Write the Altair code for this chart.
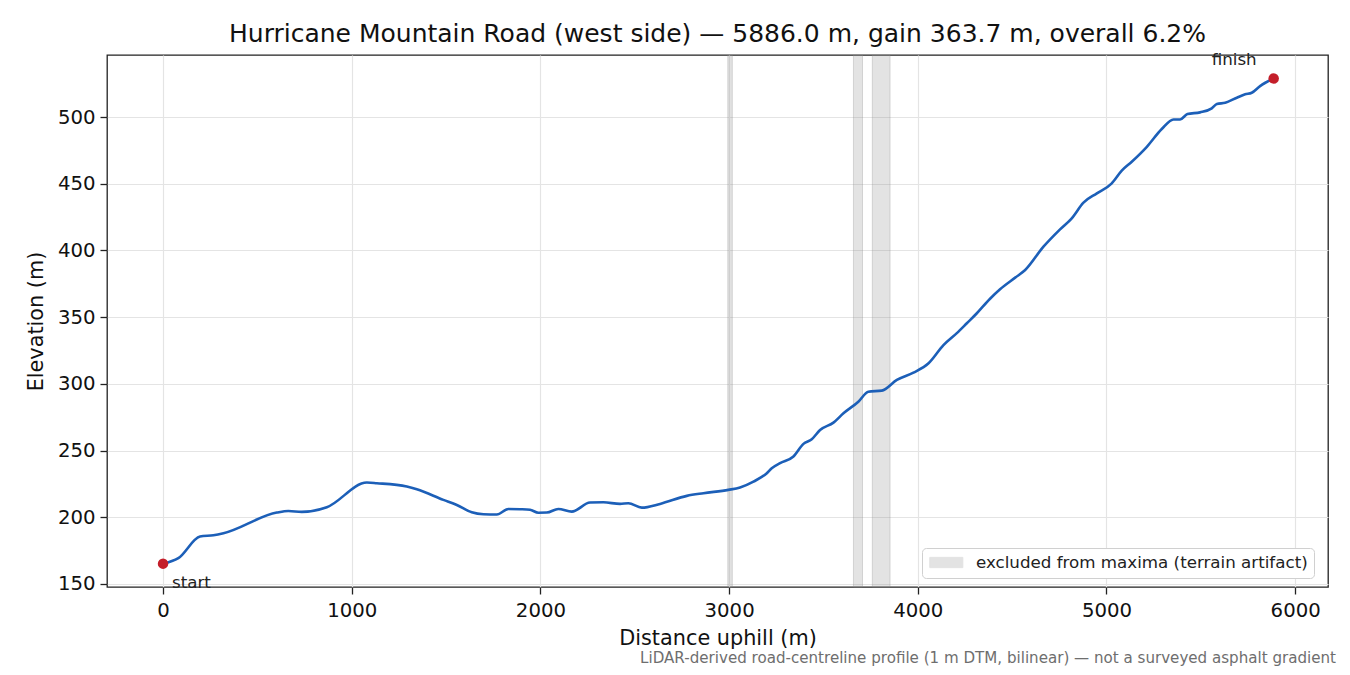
"""Elevation profile of Hurricane Mountain Road (west side)."""

import altair as alt
import pandas as pd

# Profile: distance uphill (m) and elevation (m)
distance_m = [
    0, 81, 196, 267, 320, 603, 664, 735, 868, 1080, 1133, 1292, 1345, 1486,
    1557, 1636, 1698, 1769, 1830, 1892, 1945, 1989, 2034, 2095, 2166, 2263,
    2334, 2422, 2466, 2537, 2634, 2776, 2864, 2996, 3058, 3129, 3200, 3226,
    3270, 3341, 3394, 3438, 3482, 3553, 3606, 3685, 3738, 3809, 3889, 3977,
    4057, 4136, 4207, 4260, 4313, 4383, 4436, 4516, 4569, 4666, 4754, 4816,
    4878, 4949, 5028, 5081, 5134, 5214, 5293, 5355, 5390, 5429, 5496, 5558,
    5585, 5629, 5691, 5735, 5770, 5814, 5886,
]
elevation_m = [
    165.2, 169.3, 185.5, 186.5, 188.0, 203.5, 204.7, 204.0, 207.5, 226.0,
    225.5, 223.0, 221.0, 213.0, 209.2, 203.7, 202.2, 202.0, 206.2, 206.0,
    205.6, 203.4, 203.5, 206.2, 204.2, 211.0, 211.2, 210.0, 210.5, 207.2,
    210.0, 216.0, 218.0, 220.5, 222.3, 226.7, 233.0, 236.7, 240.5, 245.5,
    255.0, 258.5, 265.4, 270.9, 277.9, 286.6, 294.1, 294.9, 302.9, 308.4,
    315.4, 329.0, 338.0, 345.4, 352.9, 363.8, 370.9, 379.6, 385.3, 402.8,
    415.8, 424.1, 435.8, 442.8, 450.3, 459.8, 466.5, 477.7, 491.0, 498.2,
    498.2, 502.2, 503.5, 506.5, 509.7, 510.7, 514.5, 517.0, 518.2, 523.2,
    528.9,
]

# Stretches excluded from the maxima (terrain artifacts)
band_start = [2993, 3659, 3759]
band_end = [3017, 3707, 3853]
band_label = "excluded from maxima (terrain artifact)"

endpoint_names = ["start", "finish"]

title_text = (
    "Hurricane Mountain Road (west side) \u2014 5886.0 m, gain 363.7 m, overall 6.2%"
)
footnote_text = (
    "LiDAR-derived road-centreline profile (1 m DTM, bilinear) "
    "\u2014 not a surveyed asphalt gradient"
)

FONT = "DejaVu Sans"

profile = pd.DataFrame({"dist": distance_m, "elev": elevation_m})
bands = pd.DataFrame({"x0": band_start, "x1": band_end, "kind": band_label})
ends = pd.DataFrame({
    "dist": [distance_m[0], distance_m[-1]],
    "elev": [elevation_m[0], elevation_m[-1]],
    "name": endpoint_names,
})

x_scale = alt.Scale(domain=[-297, 6174], nice=False, zero=False)
y_scale = alt.Scale(domain=[147.7, 546.5], nice=False, zero=False)

x_axis = alt.Axis(
    values=[0, 1000, 2000, 3000, 4000, 5000, 6000], format="d",
    title="Distance uphill (m)", titlePadding=9, labelPadding=6,
)
y_axis = alt.Axis(
    values=[150, 200, 250, 300, 350, 400, 450, 500], format="d",
    title="Elevation (m)", titlePadding=11, labelPadding=5,
)

band_layer = alt.Chart(bands).mark_rect(
    fill="#8c8c8c", fillOpacity=0.24, stroke="#8c8c8c", strokeOpacity=0.3,
    strokeWidth=1,
).encode(
    x=alt.X("x0:Q", scale=x_scale, axis=x_axis),
    x2="x1:Q",
    y=alt.value(0),
    y2=alt.value(532),
    color=alt.Color(
        "kind:N",
        scale=alt.Scale(range=["#8c8c8c"]),
        legend=alt.Legend(
            title=None, orient="none", legendX=815, legendY=493,
            symbolType="M-0.84,-0.64H3.29V0.64H-0.84Z", symbolSize=256,
            symbolOpacity=0.24, symbolStrokeWidth=1,
            labelFont=FONT, labelFontSize=16.7, labelColor="#222222",
            labelLimit=0, fillColor="white", strokeColor="#d0d0d0",
            cornerRadius=4, padding=6, labelOffset=31,
        ),
    ),
)

line_layer = alt.Chart(profile).mark_line(
    color="#1c5fb8", strokeWidth=2.6, interpolate="monotone",
).encode(
    x=alt.X("dist:Q", scale=x_scale, axis=x_axis),
    y=alt.Y("elev:Q", scale=y_scale, axis=y_axis),
)

dot_layer = alt.Chart(ends).mark_circle(
    color="#c41e2a", size=110, opacity=1,
).encode(
    x=alt.X("dist:Q", scale=x_scale),
    y=alt.Y("elev:Q", scale=y_scale),
)

start_label = alt.Chart(ends[ends["name"] == "start"]).mark_text(
    align="left", baseline="alphabetic", dx=9, dy=24, font=FONT,
    fontSize=16.7, color="#222222",
).encode(
    x=alt.X("dist:Q", scale=x_scale),
    y=alt.Y("elev:Q", scale=y_scale),
    text="name:N",
)

finish_label = alt.Chart(ends[ends["name"] == "finish"]).mark_text(
    align="right", baseline="alphabetic", dx=-17, dy=-13, font=FONT,
    fontSize=16.7, color="#222222",
).encode(
    x=alt.X("dist:Q", scale=x_scale),
    y=alt.Y("elev:Q", scale=y_scale),
    text="name:N",
)

footnote = alt.Chart(pd.DataFrame({"t": [footnote_text]})).mark_text(
    align="right", baseline="alphabetic", font=FONT, fontSize=15.1,
    color="#6e6e6e",
).encode(
    x=alt.value(1229),
    y=alt.value(608),
    text="t:N",
)

chart = alt.layer(
    band_layer, line_layer, dot_layer, start_label, finish_label, footnote,
).properties(
    width=1221,
    height=532,
    autosize=alt.AutoSizeParams(type="none"),
    padding={"left": 99, "top": 47, "right": 14, "bottom": 80},
    title=alt.TitleParams(
        text=title_text, font=FONT, fontSize=25, fontWeight="normal",
        color="#111111", anchor="middle", offset=5,
    ),
).configure_view(
    stroke="#222222", strokeWidth=1.3,
).configure_axis(
    labelFont=FONT, labelFontSize=19.7, labelColor="#111111",
    titleFont=FONT, titleFontSize=20.8, titleFontWeight="normal",
    titleColor="#111111", domain=False, tickColor="#222222", tickSize=7,
    tickWidth=1.3, grid=True, gridColor="#e4e4e4", gridWidth=1.2,
)

chart.save("out.html", embed_options={"renderer": "svg", "actions": False})
